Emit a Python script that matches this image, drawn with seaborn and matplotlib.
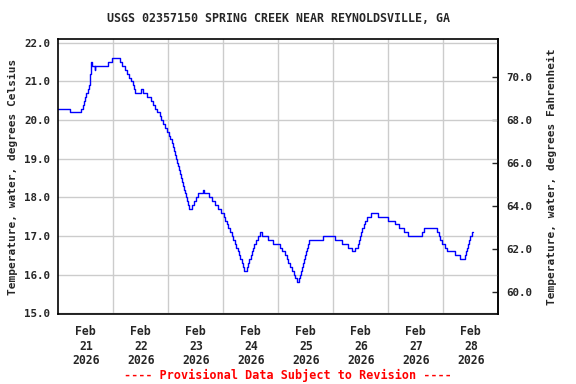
import pandas as pd
import numpy as np
import matplotlib
matplotlib.use("Agg")
import matplotlib.pyplot as plt
import seaborn as sns

# =========================
# DATA
# hours since 2026-02-21 00:00, water temperature in C
# =========================

hours = [
    0.0, 5.0, 10.0, 10.8, 11.3, 11.8, 12.3, 12.8, 13.3, 13.8, 14.1, 14.3, 14.6,
    15.9, 16.2, 21.8, 23.3, 26.8, 28.0, 29.0, 30.0, 31.0, 31.8, 32.5, 33.0, 33.6,
    36.2, 37.0, 38.5, 40.6, 41.4, 42.3, 43.2, 44.2, 45.0, 45.8, 46.6, 47.4, 48.2,
    48.8, 49.4, 49.9, 50.4, 50.9, 51.3, 51.8, 52.3, 52.8, 53.2, 53.6, 54.0, 54.4,
    54.8, 55.2, 55.6, 56.0, 56.5, 57.0, 58.2, 59.0, 59.9, 60.8, 63.2, 63.4, 65.8,
    67.0, 68.4, 69.6, 71.0, 72.2, 72.8, 73.4, 74.0, 74.8, 75.6, 76.4, 77.0, 77.6,
    78.2, 78.8, 79.4, 80.0, 80.6, 81.2, 82.2, 82.8, 83.3, 84.0, 84.6, 85.0, 85.5,
    86.1, 87.0, 88.0, 89.0, 91.7, 93.8, 96.6, 97.8, 98.8, 99.6, 100.4, 101.2,
    102.0, 102.8, 103.5, 104.2, 105.0, 105.6, 106.0, 106.4, 106.8, 107.2, 107.6,
    108.0, 108.4, 108.9, 109.5, 115.3, 120.8, 124.0, 126.2, 128.0, 129.4, 130.6,
    131.2, 131.7, 132.2, 132.7, 133.2, 133.8, 134.5, 136.6, 139.3, 143.7, 147.0,
    148.5, 150.7, 152.6, 158.9, 159.6, 165.2, 166.0, 166.7, 167.6, 168.8, 169.6,
    173.0, 175.5, 177.3, 177.8, 178.3, 178.8, 179.3, 179.8, 180.4, 180.8,
]

temp_c = [
    20.3, 20.2, 20.3, 20.4, 20.5, 20.6, 20.7, 20.8, 20.9, 21.2, 21.4, 21.5, 21.4,
    21.3, 21.4, 21.5, 21.6, 21.5, 21.4, 21.3, 21.2, 21.1, 21.0, 20.9, 20.8, 20.7,
    20.8, 20.7, 20.6, 20.5, 20.4, 20.3, 20.2, 20.1, 20.0, 19.9, 19.8, 19.7, 19.6,
    19.5, 19.4, 19.3, 19.2, 19.1, 19.0, 18.9, 18.8, 18.7, 18.6, 18.5, 18.4, 18.3,
    18.2, 18.1, 18.0, 17.9, 17.8, 17.7, 17.8, 17.9, 18.0, 18.1, 18.2, 18.1, 18.0,
    17.9, 17.8, 17.7, 17.6, 17.5, 17.4, 17.3, 17.2, 17.1, 17.0, 16.9, 16.8, 16.7,
    16.6, 16.5, 16.4, 16.3, 16.2, 16.1, 16.2, 16.3, 16.4, 16.5, 16.6, 16.7, 16.8,
    16.9, 17.0, 17.1, 17.0, 16.9, 16.8, 16.7, 16.6, 16.5, 16.4, 16.3, 16.2,
    16.1, 16.0, 15.9, 15.8, 15.9, 16.0, 16.1, 16.2, 16.3, 16.4, 16.5,
    16.6, 16.7, 16.8, 16.9, 17.0, 16.9, 16.8, 16.7, 16.6, 16.7, 16.8,
    16.9, 17.0, 17.1, 17.2, 17.3, 17.4, 17.5, 17.6, 17.5, 17.4, 17.3,
    17.2, 17.1, 17.0, 17.1, 17.2, 17.1, 17.0, 16.9, 16.8, 16.7, 16.6,
    16.5, 16.4, 16.5, 16.6, 16.7, 16.8, 16.9, 17.0, 17.1, 17.1,
]

day_labels = ["Feb\n21\n2026", "Feb\n22\n2026", "Feb\n23\n2026", "Feb\n24\n2026",
              "Feb\n25\n2026", "Feb\n26\n2026", "Feb\n27\n2026", "Feb\n28\n2026"]

f_ticks = [60.0, 62.0, 64.0, 66.0, 68.0, 70.0]
c_ticks = [15.0, 16.0, 17.0, 18.0, 19.0, 20.0, 21.0, 22.0]

start = pd.Timestamp("2026-02-21")
df = pd.DataFrame({
    "time": start + pd.to_timedelta(hours, unit="h"),
    "temp": temp_c,
})

# =========================
# STYLE
# =========================

sns.set_style("white")
plt.rcParams["font.family"] = ["DejaVu Sans Mono"]
plt.rcParams["font.weight"] = "bold"

fig = plt.figure(figsize=(5.76, 3.84), dpi=100)
ax = fig.add_axes([0.1012, 0.1823, 0.7639, 0.7161])

# =========================
# LINE
# =========================

sns.lineplot(
    data=df,
    x="time",
    y="temp",
    ax=ax,
    color="#0000ff",
    linewidth=1.0,
    drawstyle="steps-post",
    estimator=None,
    sort=False,
)

# =========================
# AXES
# =========================

ax.set_xlim(start, start + pd.Timedelta(days=8))
ax.set_ylim(14.98, 22.1)

noon = [start + pd.Timedelta(hours=12 + 24 * i) for i in range(8)]
midnight = [start + pd.Timedelta(days=i) for i in range(1, 8)]

ax.set_xticks(noon)
ax.set_xticklabels(day_labels, fontsize=8.3, fontweight="bold", linespacing=1.15)
ax.set_xticks(midnight, minor=True)
ax.tick_params(axis="x", which="both", length=0, pad=8)

ax.set_yticks(c_ticks)
ax.set_yticklabels([f"{v:.1f}" for v in c_ticks], fontsize=7.8, fontweight="bold")
ax.tick_params(axis="y", length=4, width=1, pad=2, direction="out")

ax.grid(False)
ax.grid(True, which="minor", axis="x", color="#cccccc", linewidth=1)
ax.grid(True, which="major", axis="y", color="#cccccc", linewidth=1)

for s in ax.spines.values():
    s.set_color("black")
    s.set_linewidth(1.2)

ax.set_xlabel("")
ax.set_ylabel("Temperature, water, degrees Celsius", fontsize=8, fontweight="bold",
              labelpad=4)

sec = ax.secondary_yaxis("right", functions=(lambda c: c * 1.8 + 32,
                                             lambda f: (f - 32) / 1.8))
sec.set_yticks(f_ticks)
sec.set_yticklabels([f"{v:.1f}" for v in f_ticks], fontsize=7.8, fontweight="bold")
sec.tick_params(axis="y", length=4, width=1, direction="in", pad=6)
sec.spines["right"].set_linewidth(1.2)
sec.set_ylabel("Temperature, water, degrees Fahrenheit", fontsize=8,
               fontweight="bold", labelpad=10)

ax.set_title("USGS 02357150 SPRING CREEK NEAR REYNOLDSVILLE, GA",
             fontsize=8.4, fontweight="bold", pad=12)

fig.text(0.5, 0.012, "---- Provisional Data Subject to Revision ----",
         color="red", fontsize=8.5, fontweight="bold", ha="center")

plt.savefig("out.png", dpi=100)
